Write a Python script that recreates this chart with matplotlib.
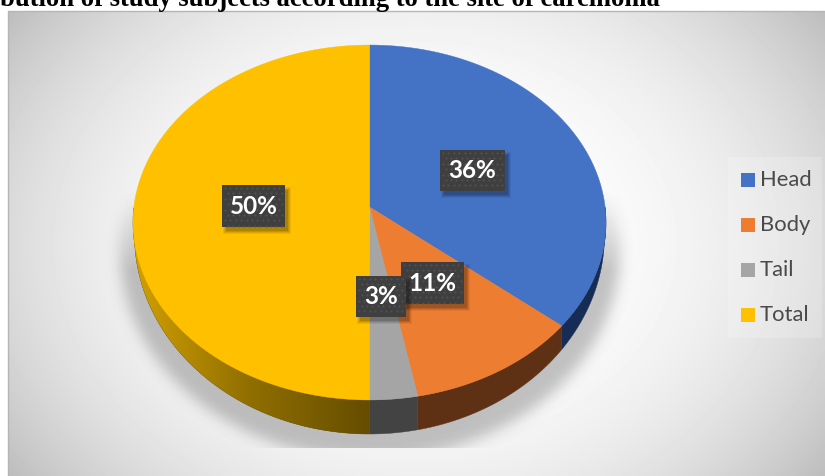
"""Site of carcinoma: tilted 3D style pie drawn on a pixel-sized axes."""

import numpy as np
import matplotlib
matplotlib.use("Agg")
import matplotlib.pyplot as plt
from matplotlib.colors import LinearSegmentedColormap
from matplotlib.patches import Polygon, Rectangle

TITLE = "bution of study subjects according to the site of carcinoma"
categories = ["Head", "Body", "Tail", "Total"]
percentages = [36, 11, 3, 50]
colors = ["#4472c4", "#ed7d31", "#a5a5a5", "#ffc000"]
side_colors = ["#172c55", "#5f3114", "#434343", "#654d00"]

W, H = 825, 476
CX, CY = 369.5, 207.0
RX, RY = 235.6, 176.1
PERSP = -0.0873
# lower rim of the wall
BASE_CY, BASE_RX, BASE_RY = 235.0, 235.0, 199.0


def project(theta):
    """Map an angle (clockwise from 12 o'clock) onto the tilted disc."""
    u, v = np.sin(theta), -np.cos(theta)
    den = 1 + PERSP * v
    return CX + RX * u / den, CY + RY * v / den


def base_rim(x):
    dx = np.clip((x - CX) / BASE_RX, -1, 1)
    return BASE_CY + BASE_RY * np.sqrt(1 - dx ** 2)


def blur(img, sigma):
    r = int(3 * sigma)
    k = np.exp(-0.5 * (np.arange(-r, r + 1) / sigma) ** 2)
    k /= k.sum()
    img = np.apply_along_axis(lambda a: np.convolve(a, k, mode="same"), 0, img)
    return np.apply_along_axis(lambda a: np.convolve(a, k, mode="same"), 1, img)


fig = plt.figure(figsize=(W / 100, H / 100), dpi=100)
ax = fig.add_axes([0, 0, 1, 1])
ax.set_xlim(0, W)
ax.set_ylim(H, 0)
ax.axis("off")

# chart area background, light in the middle and grey in the corners
yy, xx = np.mgrid[11:H, 8:W]
dist = np.sqrt(0.65 * ((xx - 416) / 408) ** 2 + 0.35 * ((yy - 243) / 232) ** 2)
shade = np.clip(1.0 - 0.26 * dist ** 2.7, 0, 1)
ax.imshow(shade, cmap="gray", vmin=0, vmax=1, extent=(8, W, H, 11),
          aspect="auto", zorder=0, interpolation="bilinear")
ax.plot([8, 8, W], [H, 11, 11], color="#b5b5b5", lw=1, zorder=1)

# soft shadow under the disc, cut flat along the bottom
yy, xx = np.mgrid[0:H, 0:W]
mask = (((xx - CX) / 250.0) ** 2 + ((yy - 250) / 208.0) ** 2 < 1).astype(float)
shadow = blur(mask, 7) * np.clip((yy - 190) / 80.0, 0, 1)
shadow[yy > 447] = 0
rgba = np.zeros((H, W, 4))
rgba[..., :3] = 0.3
rgba[..., 3] = shadow * 0.33
ax.imshow(rgba, extent=(0, W, H, 0), aspect="auto", zorder=2)

edges = np.cumsum([0] + percentages) / 100 * 2 * np.pi

# side wall, front half of the rim only
for i, col in enumerate(side_colors):
    th = np.linspace(edges[i], edges[i + 1], 300)
    th = th[np.cos(th) < 0]
    if len(th) < 2:
        continue
    x, y = project(th)
    keep = base_rim(x) > y
    x, y = x[keep], y[keep]
    pts = np.column_stack([np.r_[x, x[::-1]], np.r_[y, base_rim(x)[::-1]]])
    wall = Polygon(pts, closed=True, fc=col, ec=col, lw=0.3, zorder=3)
    ax.add_patch(wall)
    if categories[i] == "Total":
        # the yellow wall brightens toward the left edge
        cmap = LinearSegmentedColormap.from_list("wall", ["#d2a000", "#8f6e00", col])
        im = ax.imshow(np.linspace(0, 1, 256)[None, :], cmap=cmap, aspect="auto",
                       extent=(133, CX, H, 0), zorder=3.1)
        im.set_clip_path(wall)

# top face
for i, col in enumerate(colors):
    th = np.linspace(edges[i], edges[i + 1], 200)
    x, y = project(th)
    pts = np.column_stack([np.r_[CX, x], np.r_[CY, y]])
    ax.add_patch(Polygon(pts, closed=True, fc=col, ec=col, lw=0.3, zorder=4))


def value_label(x0, y0, x1, y1, text, z):
    """Dark dotted data label with a small soft drop shadow."""
    for grow, a in zip([2.5, 1.5, 0.5, -0.5], [0.06, 0.08, 0.1, 0.12]):
        ax.add_patch(Rectangle((x0 + 3 - grow, y0 + 4 - grow), x1 - x0 + 2 * grow,
                               y1 - y0 + 2 * grow, fc="black", alpha=a, lw=0, zorder=z))
    ax.add_patch(Rectangle((x0, y0), x1 - x0, y1 - y0, fc="#3f3f3f", lw=0, zorder=z + 0.1))
    for row, dy in enumerate(np.arange(y0 + 3, y1 - 1, 5.4)):
        dx = np.arange(x0 + 3 + (row % 2) * 2.7, x1 - 1, 5.4)
        ax.scatter(dx, np.full_like(dx, dy), s=2.2, c="#525252", lw=0, zorder=z + 0.2)
    ax.text((x0 + x1) / 2, (y0 + y1) / 2 + 0.5, text, color="white", fontsize=17.5,
            fontweight="bold", family="Lato", ha="center", va="center", zorder=z + 0.3)


label_boxes = [(440, 150, 505, 191), (401, 262, 464, 304), (356, 276, 406, 317), (222, 185, 285, 227)]
for p, box, z in zip(percentages, label_boxes, [10, 10, 11, 10]):
    value_label(*box, f"{p}%", z)

# legend
ax.add_patch(Rectangle((728, 157), 94, 181, fc="#ffffff", alpha=0.2, lw=0, zorder=5))
for i, (name, col) in enumerate(zip(categories, colors)):
    y = 180 + 45 * i
    ax.add_patch(Rectangle((741, y - 7), 14, 14, fc=col, lw=0, zorder=6))
    ax.text(760, y, name, color="#4a4a4a", fontsize=15.8, family="Lato",
            ha="left", va="center", zorder=6)

# heading runs off the top of the page
ax.text(0, 6, TITLE, color="black", fontsize=19.2, fontweight="bold",
        family="Liberation Serif", ha="left", va="baseline", zorder=7)

fig.savefig("out.png", dpi=100)
